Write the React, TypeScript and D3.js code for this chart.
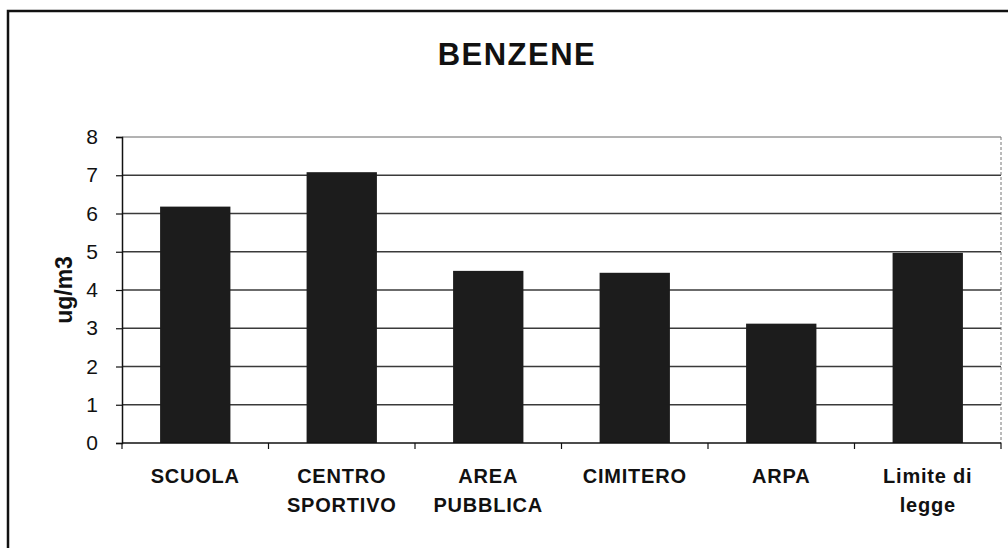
import { useEffect, useRef } from "react";
import * as d3 from "d3";

// Dati
const categories = ["SCUOLA", "CENTRO SPORTIVO", "AREA PUBBLICA", "CIMITERO", "ARPA", "Limite di legge"];
const categoryLines = [["SCUOLA"], ["CENTRO", "SPORTIVO"], ["AREA", "PUBBLICA"], ["CIMITERO"], ["ARPA"], ["Limite di", "legge"]];
const values = [6.18, 7.08, 4.5, 4.45, 3.12, 4.97];
const yTicks = [0, 1, 2, 3, 4, 5, 6, 7, 8];

const W = 1008;
const H = 548;

export default function App() {
  const svgRef = useRef<SVGSVGElement>(null);

  useEffect(() => {
    if (!svgRef.current) return;
    const svg = d3.select(svgRef.current);
    svg.selectAll("*").remove();

    const font = "'Liberation Sans', Arial, sans-serif";
    const margin = { top: 137, right: 7, bottom: 105, left: 122 };
    const chartWidth = W - margin.left - margin.right;
    const chartHeight = H - margin.top - margin.bottom;

    // Cornice esterna
    svg
      .append("rect")
      .attr("x", 8)
      .attr("y", 11)
      .attr("width", W + 20)
      .attr("height", H + 20)
      .attr("fill", "#fff")
      .attr("stroke", "#111")
      .attr("stroke-width", 2.5);

    // Titolo
    svg
      .append("text")
      .attr("x", 517)
      .attr("y", 65)
      .attr("text-anchor", "middle")
      .style("font-family", font)
      .style("font-weight", "bold")
      .style("font-size", "31px")
      .style("letter-spacing", "1.5px")
      .style("fill", "#111")
      .text("BENZENE");

    const xScale = d3
      .scaleBand()
      .domain(categories)
      .range([0, chartWidth])
      .paddingInner(0.52)
      .paddingOuter(0.26);

    const yScale = d3.scaleLinear().domain([0, 8]).range([chartHeight, 0]);

    const g = svg.append("g").attr("transform", `translate(${margin.left},${margin.top})`);

    // Griglia orizzontale
    g.append("g")
      .selectAll("line")
      .data(yTicks.filter((t) => t > 0))
      .enter()
      .append("line")
      .attr("x1", 0)
      .attr("x2", chartWidth)
      .attr("y1", (d) => yScale(d))
      .attr("y2", (d) => yScale(d))
      .style("stroke", (d) => (d === 8 ? "#666" : "#3a3a3a"))
      .style("stroke-width", (d) => (d === 8 ? 1 : 1.5));

    // Bordo destro area grafico
    g.append("line")
      .attr("x1", chartWidth)
      .attr("x2", chartWidth)
      .attr("y1", 0)
      .attr("y2", chartHeight)
      .style("stroke", "#777")
      .style("stroke-width", 1)
      .style("stroke-dasharray", "3,2");

    // Barre
    g.selectAll(".bar")
      .data(values)
      .enter()
      .append("rect")
      .attr("class", "bar")
      .attr("x", (_, i) => xScale(categories[i]) || 0)
      .attr("y", (d) => yScale(d))
      .attr("width", xScale.bandwidth())
      .attr("height", (d) => chartHeight - yScale(d))
      .attr("fill", "#1c1c1c");

    // Asse Y
    const yAxis = g
      .append("g")
      .call(d3.axisLeft(yScale).tickValues(yTicks).tickSize(6).tickPadding(18).tickFormat(d3.format("d")));
    yAxis.select(".domain").style("stroke", "#111").style("stroke-width", 1.5);
    yAxis.selectAll(".tick line").style("stroke", "#111").style("stroke-width", 1.2);
    yAxis
      .selectAll("text")
      .style("font-family", font)
      .style("font-size", "21px")
      .style("fill", "#111");

    // Asse X
    const bounds = categories.map((_, i) => (i * chartWidth) / categories.length).concat([chartWidth]);
    g.append("line")
      .attr("x1", 0)
      .attr("x2", chartWidth)
      .attr("y1", chartHeight)
      .attr("y2", chartHeight)
      .style("stroke", "#111")
      .style("stroke-width", 1.5);
    g.append("g")
      .selectAll("line")
      .data(bounds)
      .enter()
      .append("line")
      .attr("x1", (d) => d)
      .attr("x2", (d) => d)
      .attr("y1", chartHeight)
      .attr("y2", chartHeight + 6)
      .style("stroke", "#111")
      .style("stroke-width", 1.2);

    // Etichette categorie
    const labels = g
      .selectAll(".cat")
      .data(categories)
      .enter()
      .append("text")
      .attr("class", "cat")
      .attr("text-anchor", "middle")
      .style("font-family", font)
      .style("font-weight", "bold")
      .style("font-size", "20px")
      .style("letter-spacing", "0.8px")
      .style("fill", "#111");
    labels
      .selectAll("tspan")
      .data((_, i) => categoryLines[i].map((line) => ({ line, i })))
      .enter()
      .append("tspan")
      .attr("x", (d) => (xScale(categories[d.i]) || 0) + xScale.bandwidth() / 2)
      .attr("y", (_, j) => chartHeight + 40 + j * 29)
      .text((d) => d.line);

    // Titolo asse Y
    svg
      .append("text")
      .attr("transform", `translate(72,${margin.top + chartHeight / 2}) rotate(-90)`)
      .attr("text-anchor", "middle")
      .style("font-family", font)
      .style("font-weight", "bold")
      .style("font-size", "23px")
      .style("fill", "#111")
      .text("ug/m3");
  }, []);

  return (
    <svg
      ref={svgRef}
      width={W}
      height={H}
      style={{ position: "absolute", left: 0, top: 0, background: "#fff" }}
    />
  );
}
